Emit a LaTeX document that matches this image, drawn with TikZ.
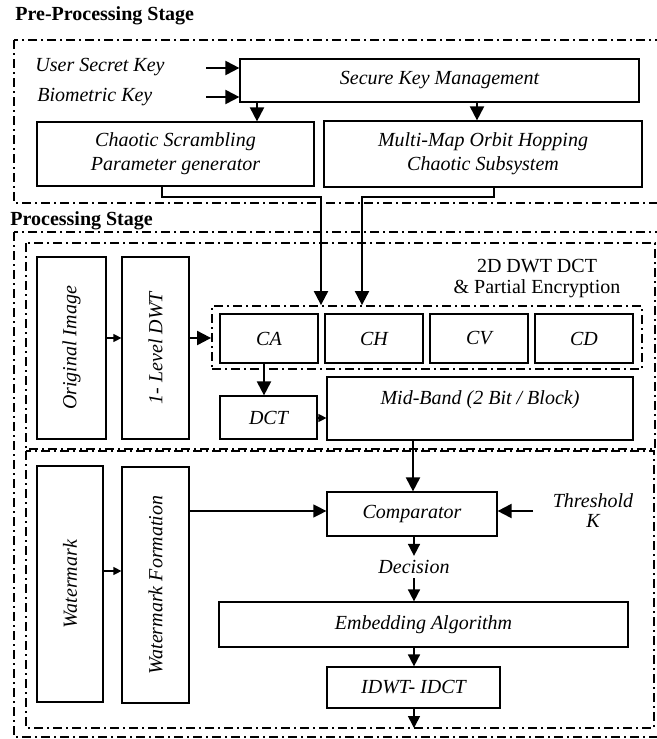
\documentclass[tikz,border=0pt]{standalone}
\usepackage{fontspec}
\setmainfont{Liberation Serif}
\usepackage{graphicx}
\usetikzlibrary{arrows.meta}
\tikzset{
 box/.style={draw, line width=0.6pt, inner sep=0pt, font=\itshape, align=center},
 sz/.style 2 args={minimum width=#1*0.5pt, minimum height=#2*0.5pt},
 ddot/.style={draw, line width=0.9pt, dash pattern=on 4.5pt off 2pt on 1pt off 2pt},
 arrbig/.style={line width=1pt, -{Triangle[length=7pt,width=7pt]}},
 arrthin/.style={line width=0.6pt, -{Triangle[length=6.5pt,width=6.5pt]}},
 arrmid/.style={line width=0.8pt, -{Triangle[length=6pt,width=6pt]}},
 arrsmall/.style={line width=0.6pt, -{Triangle[length=4pt,width=4pt]}},
 lbl/.style={font=\itshape, inner sep=0pt},
 ttl/.style={font=\bfseries, inner sep=0pt, anchor=west}
}
\begin{document}
\begin{tikzpicture}[x=0.5pt,y=-0.5pt]
\useasboundingbox (0,0) rectangle (657,739);
\clip (0,0) rectangle (657,739);

% containers
\draw[ddot] (14,40) rectangle (670,203);
\draw[ddot] (14,232) rectangle (670,737);
\draw[ddot] (26,243) rectangle (655,449);
\draw[ddot] (26,451) rectangle (654,728);

% titles
\node[ttl] (t1) at (15,16) {Pre-Processing Stage};
\node[ttl] (t2) at (10,221) {Processing Stage};

% pre-processing
\node[lbl, anchor=west] (usk) at (35,67) {User Secret Key};
\node[lbl, anchor=west] (bio) at (37,97) {Biometric Key};
\node[box, sz={399}{43}] (skm) at (439.5,80.5) {Secure Key Management};
\node[box, sz={277}{64}] (csp) at (175.5,154) {Chaotic Scrambling\\Parameter generator};
\node[box, sz={318}{66}] (mmo) at (483,154) {Multi-Map Orbit Hopping\\Chaotic Subsystem};

% processing upper
\node[box, sz={69}{182}] (orig) at (71.5,348) {\rotatebox{90}{Original Image}};
\node[box, sz={67}{182}] (dwt) at (155.5,348) {\rotatebox{90}{1- Level DWT}};
\node[ddot, sz={430}{63}, inner sep=0pt] (grp) at (427,337.5) {};
\node[box, sz={98}{49}] (ca) at (269,338.5) {CA};
\node[box, sz={98}{49}] (ch) at (374,338.5) {CH};
\node[box, sz={98}{49}] (cv) at (479,338.5) {CV};
\node[box, sz={98}{49}] (cd) at (584,338.5) {CD};
\node[inner sep=0pt, align=center] (lab2d) at (537,279) {2D DWT DCT\\[-1.5pt]\& Partial Encryption};
\node[box, sz={97}{43}] (dct) at (268.5,417.5) {DCT};
\node[box, sz={306}{63}] (mid) at (480,408.5) {};
\node[lbl] (midt) at (480,400) {Mid-Band (2 Bit / Block)};

% processing lower
\node[box, sz={66}{236}] (wm) at (70,584) {\rotatebox{90}{Watermark}};
\node[box, sz={67}{236}] (wf) at (155.5,585) {\rotatebox{90}{Watermark Formation}};
\node[box, sz={170}{44}] (cmp) at (412,514) {Comparator};
\node[lbl, align=center] (thr) at (593,511) {Threshold\\[-2pt]K};
\node[lbl, inner sep=2pt] (dec) at (414,567) {Decision};
\node[box, sz={409}{45}] (emb) at (423.5,624.5) {Embedding Algorithm};
\node[box, sz={173}{41}] (idw) at (413.5,687.5) {IDWT- IDCT};

% helper coordinates
\coordinate (u0) at (206,68);
\coordinate (b0) at (206,97);
\coordinate (x1) at (257,0);
\coordinate (x2) at (477,0);
\coordinate (k1) at (162,197);
\coordinate (k2) at (321,197);
\coordinate (k3) at (494,197);
\coordinate (k4) at (362,197);
\coordinate (y1) at (0,338);
\coordinate (x3) at (264,0);
\coordinate (y2) at (0,418);
\coordinate (x4) at (413,0);
\coordinate (y3) at (0,571);
\coordinate (y4) at (0,511);
\coordinate (t0) at (533,511);
\coordinate (e0) at (414,728);

% connectors
\draw[arrbig] (u0) -- (skm.west |- u0);
\draw[arrbig] (b0) -- (skm.west |- b0);
\draw[arrbig] (skm.south -| x1) -- (csp.north -| x1);
\draw[arrbig] (skm.south -| x2) -- (mmo.north -| x2);
\draw[arrbig] (csp.south -| k1) -- (k1) -- (k2) -- (grp.north -| k2);
\draw[arrbig] (mmo.south -| k3) -- (k3) -- (k4) -- (grp.north -| k4);
\draw[arrsmall] (orig.east |- y1) -- (dwt.west |- y1);
\draw[arrbig] (dwt.east |- y1) -- (grp.west |- y1);
\draw[arrbig] (ca.south -| x3) -- (dct.north -| x3);
\draw[arrsmall] (dct.east |- y2) -- (mid.west |- y2);
\draw[arrbig] (mid.south -| x4) -- (cmp.north -| x4);
\draw[arrsmall] (wm.east |- y3) -- (wf.west |- y3);
\draw[arrthin] (wf.east |- y4) -- (cmp.west |- y4);
\draw[arrbig] (t0) -- (cmp.east |- t0);
\draw[arrmid] (cmp.south -| dec) -- (dec.north);
\draw[arrmid] (dec.south) -- (emb.north -| dec);
\draw[arrmid] (emb.south -| dec) -- (idw.north -| dec);
\draw[arrmid] (idw.south -| e0) -- (e0);
\end{tikzpicture}
\end{document}
